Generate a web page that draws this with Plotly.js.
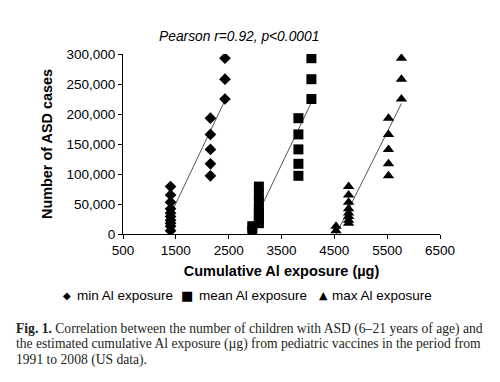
<!DOCTYPE html>
<html>
<head>
<meta charset="utf-8">
<script src="https://cdn.plot.ly/plotly-3.0.1.min.js"></script>
<style>html,body{margin:0;padding:0;background:#fff;}#chart{width:500px;height:382px;}</style>
</head>
<body>
<div id="chart"></div>
<script>
// ASD cases per year (1991-2008), same for all three exposure estimates
const asdCases = [5500, 13000, 18000, 23000, 29000, 35000, 42000, 53000, 65000, 79000,
                  97000, 117000, 141000, 166000, 193000, 225000, 258000, 293000];
// Cumulative Al exposure (µg) per year
const minExposure  = [1400,1400,1400,1400,1400,1400,1400,1400,1400,1400, 2155,2155,2155,2155,2155, 2430,2430,2430];
const meanExposure = [2947,2947,3072,3072,3072,3072,3072,3072,3072,3072, 3820,3820,3820,3820,3820, 4066,4066,4066];
const maxExposure  = [4532,4532,4770,4770,4770,4770,4770,4770,4770,4770, 5525,5525,5525,5525,5525, 5770,5770,5770];
const seriesNames = ['min Al exposure', 'mean Al exposure', 'max Al exposure'];
const xTicks = [500, 1500, 2500, 3500, 4500, 5500, 6500];
const yTicks = [0, 50000, 100000, 150000, 200000, 250000, 300000];

function fit(xs, ys) {
  const n = xs.length;
  const mx = xs.reduce((a,b)=>a+b,0)/n, my = ys.reduce((a,b)=>a+b,0)/n;
  let sxy = 0, sxx = 0;
  for (let i=0;i<n;i++){ sxy += (xs[i]-mx)*(ys[i]-my); sxx += (xs[i]-mx)*(xs[i]-mx); }
  const b = sxy/sxx, a = my - b*mx;
  const x0 = Math.min(...xs), x1 = Math.max(...xs);
  return {x:[x0,x1], y:[a+b*x0, a+b*x1]};
}

const symbols = ['diamond', 'square', 'triangle-up'];
const sizes = [9, 10, 10];
const xsAll = [minExposure, meanExposure, maxExposure];
const traces = [];
xsAll.forEach((xs, i) => {
  const f = fit(xs, asdCases);
  traces.push({x: f.x, y: f.y, mode: 'lines', type: 'scatter', showlegend: false,
    line: {color: '#555', width: 1}, hoverinfo: 'skip'});
});
xsAll.forEach((xs, i) => {
  traces.push({x: xs, y: asdCases, mode: 'markers', type: 'scatter', name: seriesNames[i],
    showlegend: false, marker: {symbol: symbols[i], size: sizes[i], color: '#000'}});
});

const F = 'Liberation Sans, Arial, sans-serif';
const SERIF = 'Liberation Serif, Times New Roman, serif';
const legendItems = [
  {sym: '◆', sx: 67, tx: 75, size: 10},
  {sym: '■', sx: 187, tx: 197, size: 13},
  {sym: '▲', sx: 323, tx: 330, size: 11}
];
const annotations = [];
legendItems.forEach((it, i) => {
  annotations.push({xref:'paper', yref:'paper', x:(it.sx-123)/317, y:-(295.5-234)/180, xanchor:'center', yanchor:'middle',
    text: it.sym, showarrow:false, font:{family:'DejaVu Sans', size: it.size, color:'#000'}});
  annotations.push({xref:'paper', yref:'paper', x:(it.tx-123)/317, y:-(295.5-234)/180, xanchor:'left', yanchor:'middle',
    text: seriesNames[i], showarrow:false, font:{family:F, size: 13.5, color:'#000'}});
});
const caption = [
  '<b>Fig. 1.</b> Correlation between the number of children with ASD (6–21 years of age) and',
  'the estimated cumulative Al exposure (µg) from pediatric vaccines in the period from',
  '1991 to 2008 (US data).'
];
const capY = [328.5, 344, 360];
caption.forEach((t, i) => {
  annotations.push({xref:'paper', yref:'paper', x:(14-123)/317, y:-(capY[i]-234)/180, xanchor:'left', yanchor:'middle',
    text: t, showarrow:false, font:{family:SERIF, size: 13.6, color:'#231f20'}});
});
annotations.push({xref:'paper', yref:'paper', x:(238.5-123)/317, y:1+(54-37)/180, xanchor:'center', yanchor:'middle',
  text:'<i>Pearson r=0.92, p<0.0001</i>', showarrow:false, font:{family:F, size:13.8, color:'#000'}});

const layout = {
  width: 500, height: 382,
  margin: {l: 123, r: 60, t: 54, b: 148, pad: 0},
  paper_bgcolor: '#fff', plot_bgcolor: '#fff',
  showlegend: false,
  font: {family: F, color: '#000'},
  xaxis: {range: [500, 6500], tickvals: xTicks, ticktext: xTicks.map(String), showgrid: false, zeroline: false,
    showline: true, linecolor: '#000', linewidth: 1, ticks: 'outside', ticklen: 4, tickcolor: '#000',
    tickfont: {family: F, size: 13.5, color: '#000'},
    title: {text: '<b>Cumulative Al exposure (µg)</b>', font: {family: F, size: 14.5, color: '#000'}, standoff: 8}},
  yaxis: {range: [0, 300000], tickvals: yTicks, ticktext: yTicks.map(v => v.toLocaleString('en-US')), showgrid: false, zeroline: false,
    showline: true, linecolor: '#000', linewidth: 1, ticks: 'outside', ticklen: 4, tickcolor: '#000',
    tickfont: {family: F, size: 13.5, color: '#000'},
    title: {text: '<b>Number of ASD cases</b>', font: {family: F, size: 14.4, color: '#000'}, standoff: 10}},
  annotations: annotations
};
Plotly.newPlot('chart', traces, layout, {staticPlot: true, displayModeBar: false});
</script>
</body>
</html>
